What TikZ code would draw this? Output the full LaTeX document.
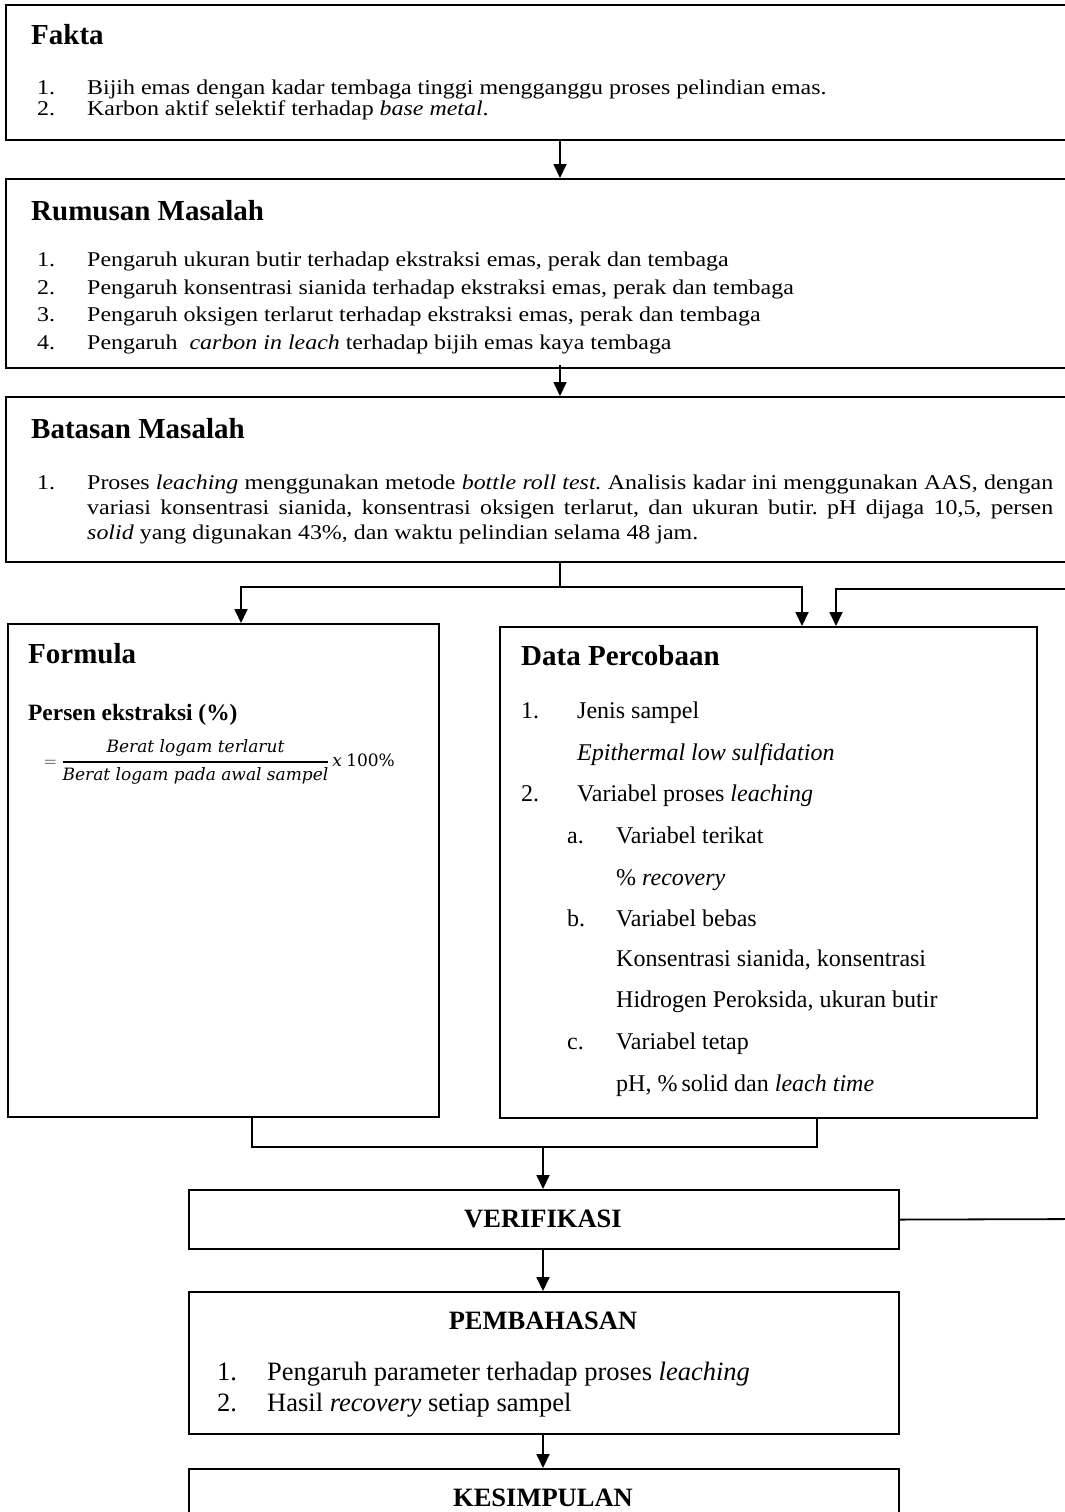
\documentclass[tikz,border=0pt]{standalone}
\usepackage{fontspec}
\usepackage{amsmath}
\setmainfont{Liberation Serif}
\newfontfamily\wideserif[FakeStretch=1.14]{Liberation Serif}
\newfontfamily\formfont{DejaVu Serif}
\usetikzlibrary{arrows.meta}
\frenchspacing
\begin{document}
\begin{tikzpicture}[x=1pt,y=-1pt,
  box/.style={draw, line width=2.2pt, rectangle, inner sep=0pt, anchor=north west},
  conn/.style={line width=1.8pt},
  arr/.style={line width=1.8pt, -{Triangle[length=14pt,width=13pt]}},
  ttl/.style={anchor=base west, inner sep=0pt, font=\fontsize{29}{34}\selectfont\bfseries},
  txt/.style={anchor=base west, inner sep=0pt, font=\wideserif\fontsize{21}{25}\selectfont},
  dtxt/.style={anchor=base west, inner sep=0pt, font=\fontsize{24}{28}\selectfont},
  sub/.style={anchor=base west, inner sep=0pt, font=\fontsize{23.4}{28}\selectfont\bfseries},
  big/.style={anchor=base west, inner sep=0pt, font=\fontsize{26.5}{31}\selectfont},
  cttl/.style={anchor=base, inner sep=0pt, font=\fontsize{26.5}{31}\selectfont\bfseries},
]
\useasboundingbox (0,0) rectangle (1065,1512);
\clip (0,0) rectangle (1065,1512);

% ---------- boxes ----------
\node[box, minimum width=1100pt, minimum height=135pt] (fakta) at (5,4) {};
\node[box, minimum width=1100pt, minimum height=189pt] (rumusan) at (5,178) {};
\node[box, minimum width=1100pt, minimum height=165pt] (batasan) at (5,396) {};
\node[box, minimum width=431pt, minimum height=493pt] (formula) at (7,623) {};
\node[box, minimum width=537pt, minimum height=491pt] (data) at (499,626) {};
\node[box, minimum width=710pt, minimum height=59pt] (verif) at (188,1189) {};
\node[box, minimum width=710pt, minimum height=142pt] (pemb) at (188,1291) {};
\node[box, minimum width=710pt, minimum height=100pt] (kesim) at (188,1468) {};

% ---------- Fakta ----------
\node[ttl] (faktaT) at (31,45) {Fakta};
\node[txt] (f1n) at (37,94) {1.};
\node[txt] (f1) at (87,94) {Bijih emas dengan kadar tembaga tinggi mengganggu proses pelindian emas.};
\node[txt] (f2n) at (37,115) {2.};
\node[txt] (f2) at (87,115) {Karbon aktif selektif terhadap \textit{base metal}.};

% ---------- Rumusan ----------
\node[ttl] (rumT) at (31,220) {Rumusan Masalah};
\node[txt] (r1n) at (37,266) {1.};
\node[txt] (r1) at (87,266) {Pengaruh ukuran butir terhadap ekstraksi emas, perak dan tembaga};
\node[txt] (r2n) at (37,294) {2.};
\node[txt] (r2) at (87,294) {Pengaruh konsentrasi sianida terhadap ekstraksi emas, perak dan tembaga};
\node[txt] (r3n) at (37,321) {3.};
\node[txt] (r3) at (87,321) {Pengaruh oksigen terlarut terhadap ekstraksi emas, perak dan tembaga};
\node[txt] (r4n) at (37,349) {4.};
\node[txt] (r4) at (87,349) {Pengaruh\ \ \textit{carbon in leach} terhadap bijih emas kaya tembaga};

% ---------- Batasan ----------
\node[ttl] (batT) at (31,438) {Batasan Masalah};
\node[txt] (b1n) at (37,489) {1.};
\node[txt] (b1) at (87,489) {\makebox[966pt][s]{Proses \textit{leaching} menggunakan metode \textit{bottle roll test.} Analisis kadar ini menggunakan AAS, dengan}};
\node[txt] (b2) at (87,514) {\makebox[966pt][s]{variasi konsentrasi sianida, konsentrasi oksigen terlarut, dan ukuran butir. pH dijaga 10,5, persen}};
\node[txt] (b3) at (87,539) {\textit{solid} yang digunakan 43\%, dan waktu pelindian selama 48 jam.};

% ---------- Formula ----------
\node[ttl] (formT) at (28,663) {Formula};
\node[sub] (persen) at (28,720) {Persen ekstraksi (\%)};
\node[anchor=west, inner sep=0pt, font=\fontsize{17}{20}\selectfont] (eq) at (44,762)
  {$= \genfrac{}{}{1.6pt}{0}{\hbox{\formfont\itshape Berat logam terlarut}}{\hbox{\formfont\itshape Berat logam pada awal sampel}}\,\hbox{\formfont\itshape x}\ \hbox{\formfont 100\%}$};

% ---------- Data Percobaan ----------
\node[ttl] (dataT) at (521,665) {Data Percobaan};
\node[dtxt] (d1n) at (521,718) {1.};
\node[dtxt] (d1) at (577,718) {Jenis sampel};
\node[dtxt] (d1b) at (577,760) {\textit{Epithermal low sulfidation}};
\node[dtxt] (d2n) at (521,801) {2.};
\node[dtxt] (d2) at (577,801) {Variabel proses \textit{leaching}};
\node[dtxt] (dan) at (567,843) {a.};
\node[dtxt] (da) at (616,843) {Variabel terikat};
\node[dtxt] (dab) at (616,885) {\% \textit{recovery}};
\node[dtxt] (dbn) at (567,926) {b.};
\node[dtxt] (db) at (616,926) {Variabel bebas};
\node[dtxt] (dbb) at (616,966) {Konsentrasi sianida, konsentrasi};
\node[dtxt] (dbc) at (616,1007) {Hidrogen Peroksida, ukuran butir};
\node[dtxt] (dcn) at (567,1049) {c.};
\node[dtxt] (dc) at (616,1049) {Variabel tetap};
\node[dtxt] (dcb) at (616,1091) {pH, \%\,solid dan \textit{leach time}};

% ---------- bottom boxes text ----------
\node[cttl] (verT) at (543,1227) {VERIFIKASI};
\node[cttl] (pemT) at (543,1329) {PEMBAHASAN};
\node[big] (p1n) at (217,1380) {1.};
\node[big] (p1) at (267,1380) {Pengaruh parameter terhadap proses \textit{leaching}};
\node[big] (p2n) at (217,1411) {2.};
\node[big] (p2) at (267,1411) {Hasil \textit{recovery} setiap sampel};
\node[cttl] (kesT) at (543,1506) {KESIMPULAN};

% ---------- connector coordinates ----------
\coordinate (xc) at (560,0);
\coordinate (j1) at (560,587);
\coordinate (jl) at (241,587);
\coordinate (jr) at (802,587);
\coordinate (fbR) at (1090,1219);
\coordinate (fbT) at (1090,589);
\coordinate (fbX) at (836,589);
\coordinate (bl) at (252,1147);
\coordinate (br) at (817,1147);
\coordinate (m1) at (543,1147);

% ---------- connectors ----------
\draw[arr] (fakta.south -| xc) -- (rumusan.north -| xc);
\draw[arr] ([yshift=4pt]rumusan.south -| xc) -- (batasan.north -| xc);
\draw[conn] (batasan.south -| j1) -- (j1);
\draw[arr] (j1) -| (formula.north -| jl);
\draw[arr] (j1) -| (data.north -| jr);
\draw[arr] (verif.east) -- (fbR) -- (fbT) -- (fbX) -- (data.north -| fbX);
\draw[conn] (formula.south -| bl) -- (bl) -- (br) -- (data.south -| br);
\draw[arr] (m1) -- (verif.north -| m1);
\draw[arr] (verif.south -| m1) -- (pemb.north -| m1);
\draw[arr] (pemb.south -| m1) -- (kesim.north -| m1);
\end{tikzpicture}
\end{document}
